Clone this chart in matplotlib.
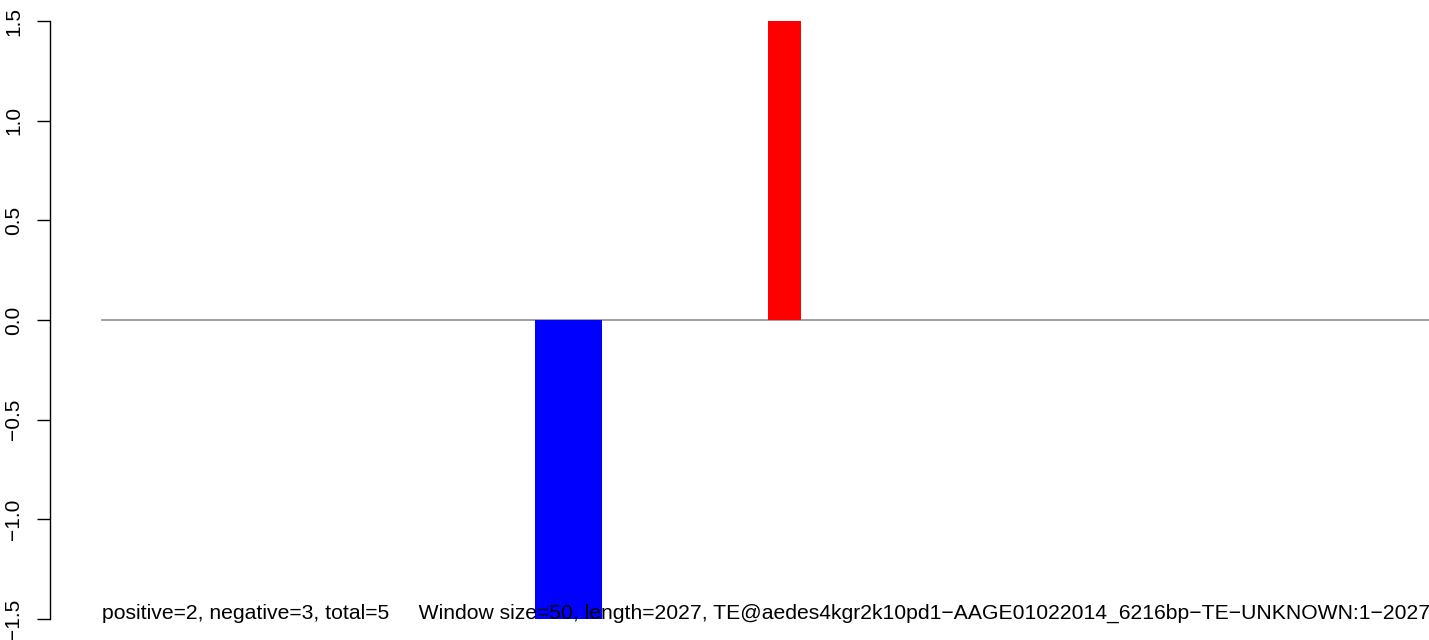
import matplotlib.pyplot as plt
import numpy as np

plt.rcParams["font.family"] = ["Liberation Sans", "DejaVu Sans"]

# window data (bp)
window_size = 50
seq_length = 2027
win_starts = [650, 700, 1000]
win_values = [-1.5, -1.5, 1.5]
win_colors = ["blue", "blue", "red"]

yticks = [-1.5, -1.0, -0.5, 0.0, 0.5, 1.0, 1.5]
ytick_labels = ["\u22121.5", "\u22121.0", "\u22120.5", "0.0", "0.5", "1.0", "1.5"]

info = ("positive=2, negative=3, total=5     Window size=50, length=2027, "
        "TE@aedes4kgr2k10pd1\u2212AAGE01022014_6216bp\u2212TE\u2212UNKNOWN:1\u22122027")

fig = plt.figure(figsize=(14.29, 6.4), dpi=100)
ax = fig.add_axes([50 / 1429, 0, 1 - 50 / 1429, 1])

# zero line
ax.plot([0, seq_length], [0, 0], color="#999999", linewidth=1.3, zorder=1)

ax.bar(win_starts, win_values, width=window_size, align="edge",
       color=win_colors, edgecolor="none", zorder=2)

ax.text(0, -1.5, info, fontsize=15.2, ha="left", va="baseline", zorder=3)

ax.set_xlim(-78.6, 1993)
ax.set_ylim(-1.606, 1.606)

for s in ["top", "right", "bottom"]:
    ax.spines[s].set_visible(False)
ax.spines["left"].set_bounds(-1.5, 1.5)
ax.spines["left"].set_linewidth(1.0)
ax.set_xticks([])
ax.set_yticks(yticks)
ax.set_yticklabels(ytick_labels, rotation=90, va="center", fontsize=15)
ax.tick_params(axis="y", length=9.5, width=1.0, pad=10)

fig.savefig("out.png", dpi=100)
